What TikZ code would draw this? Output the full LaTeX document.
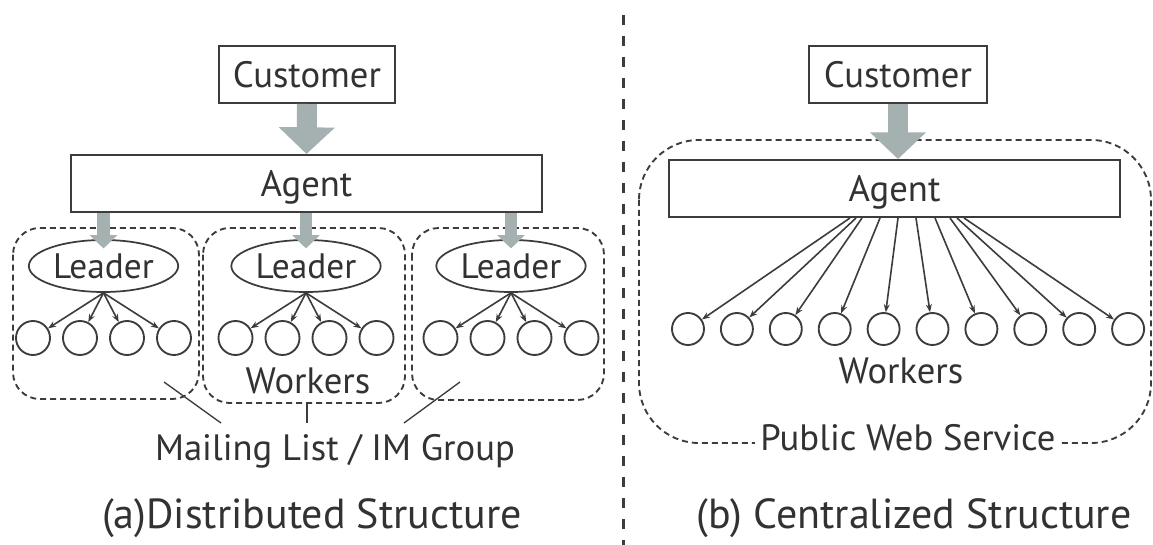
\documentclass[tikz,border=0pt]{standalone}
\usepackage{fontspec}
\setmainfont{PT Sans}
\usetikzlibrary{arrows.meta,shapes.geometric}
\definecolor{txt}{RGB}{50,50,50}
\definecolor{ln}{RGB}{60,60,60}
\definecolor{agray}{RGB}{165,177,177}
\begin{document}
\begin{tikzpicture}[x=0.75pt,y=-0.75pt,
  lbl/.style={font=\fontsize{27.5}{32}\selectfont,text=txt},
  captext/.style={font=\fontsize{31.5}{36}\selectfont,text=txt},
  boxnode/.style={draw=ln,line width=1.5pt,rectangle,inner sep=0pt,minimum height=42.75pt,lbl,text height=19pt,text depth=0pt},
  leadnode/.style={draw=ln,line width=1.3pt,ellipse,inner sep=0pt,minimum width=112pt,minimum height=39pt,font=\fontsize{26.5}{30}\selectfont,text=txt,text height=18.5pt,text depth=0pt},
  wnode/.style={draw=ln,line width=1.4pt,circle,inner sep=0pt},
  dashbox/.style={draw=ln,line width=1.4pt,dash pattern=on 4.5pt off 3pt},
  bigarrow/.style={draw=agray,line width=15pt,-{Triangle[length=20pt,width=41pt]}},
  smallarrow/.style={draw=agray,line width=9.5pt,-{Triangle[length=10pt,width=20pt]}},
  thinarrow/.style={draw=ln,line width=1.2pt,-{Stealth[length=6pt,width=4.5pt]}},
  thinline/.style={draw=ln,line width=1pt},
  sepline/.style={draw=ln,line width=2.25pt,dash pattern=on 7.5pt off 8.25pt}
]
\useasboundingbox[fill=white] (0,0) rectangle (1153,545);

% ---------------- (a) distributed ----------------
\draw[dashbox,rounded corners=20pt] (13,228) rectangle (199,399);
\draw[dashbox,rounded corners=20pt] (203,228) rectangle (405,403);
\draw[dashbox,rounded corners=20pt] (412,228) rectangle (604,400);

\node[boxnode,minimum width=132pt] (custA) at (307,74.5) {Customer};
\node[boxnode,minimum width=353pt] (agentA) at (306.5,183.5) {Agent};
\draw[bigarrow] (custA.south) -- (agentA.north);

\foreach \i/\x in {1/103.5,2/306,3/511}{
  \node[leadnode] (lead\i) at (\x,266) {Leader};
  \draw[smallarrow,shorten >=-7pt] (agentA.south -| lead\i.north) -- (lead\i.north);
  \foreach \j/\d in {1/-70.5,2/-23.5,3/23.5,4/70.5}{
    \node[wnode,minimum size=25.5pt] (w\i\j) at (\x+\d,338) {};
    \draw[thinarrow] (lead\i.south) -- (w\i\j);
  }
}

\node[lbl,anchor=base] (wkA) at (308,393) {Workers};
\node[lbl,anchor=base] (ml) at (335,460) {Mailing List / IM Group};
\coordinate (m1a) at (164,382); \coordinate (m1b) at (221,423);
\coordinate (m2a) at (307,402); \coordinate (m2b) at (307,423);
\coordinate (m3a) at (460,382); \coordinate (m3b) at (404,423);
\draw[thinline] (m1a) -- (m1b);
\draw[thinline] (m2a) -- (m2b);
\draw[thinline] (m3a) -- (m3b);
\node[captext,anchor=base] (capA) at (312,528) {(a)Distributed Structure};

% ---------------- separator ----------------
\coordinate (s1) at (623,15); \coordinate (s2) at (623,545);
\draw[sepline] (s1) -- (s2);

% ---------------- (b) centralized ----------------
\draw[dashbox,rounded corners=45pt] (639,140) rectangle (1151,443);
\node[boxnode,minimum width=133.5pt] (custB) at (898,74.5) {Customer};
\node[boxnode,minimum width=338pt] (agentB) at (894.5,188.5) {Agent};
\draw[bigarrow] (custB.south) -- (custB.south |- agentB.north);

\foreach \j/\s in {0/850,1/856,2/862,3/880,4/898,5/916,6/935,7/950,8/957,9/964}{
  \node[wnode,minimum size=24pt] (v\j) at ({688+48.9*\j},329) {};
  \coordinate (f\j) at (\s,218);
  \draw[thinarrow] (f\j) -- (v\j);
}
\node[lbl,anchor=base] (wkB) at (901,383) {Workers};
\node[lbl,anchor=base,fill=white,inner xsep=4pt,inner ysep=2pt] (pws) at (908,450) {Public Web Service};
\node[captext,anchor=base] (capB) at (914,528) {(b) Centralized Structure};
\end{tikzpicture}
\end{document}
